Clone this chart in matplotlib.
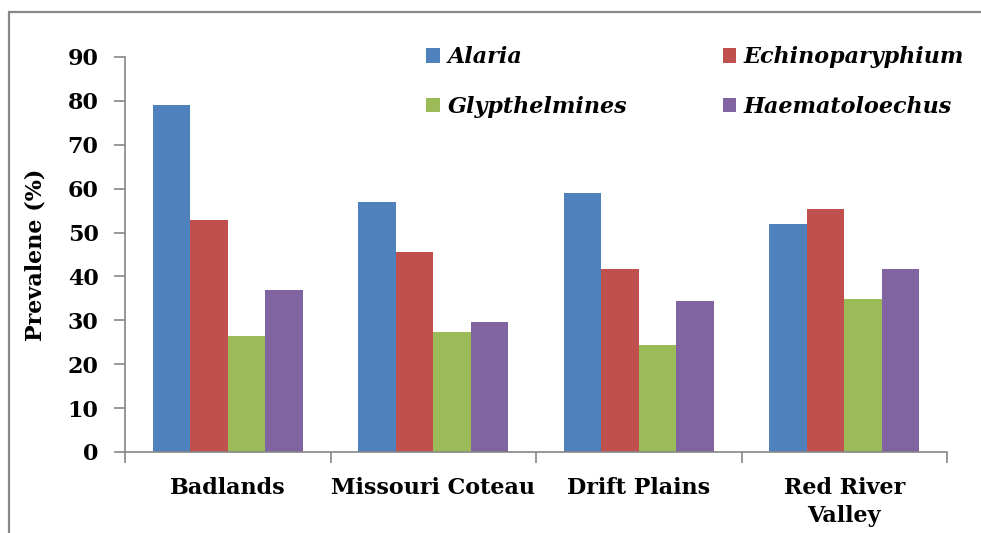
import numpy as np
import matplotlib
matplotlib.use("Agg")
import matplotlib.pyplot as plt
from matplotlib.patches import Rectangle

# DATA
regions = ["Badlands", "Missouri Coteau", "Drift Plains", "Red River\nValley"]
species = ["Alaria", "Echinoparyphium", "Glypthelmines", "Haematoloechus"]
alaria = [79.0, 57.0, 58.9, 51.9]
echinoparyphium = [52.9, 45.6, 41.8, 55.3]
glypthelmines = [26.5, 27.4, 24.3, 34.8]
haematoloechus = [36.9, 29.7, 34.4, 41.6]
colors = ["#4F81BD", "#C0504D", "#9BBB59", "#8064A2"]

series = [alaria, echinoparyphium, glypthelmines, haematoloechus]

fig = plt.figure(figsize=(9.81, 5.33), dpi=100)
ax = fig.add_axes([125 / 981, (533 - 452) / 533, 822 / 981, 395 / 533])

# outer chart frame (runs off the right/bottom edge like the original)
fig.patches.append(Rectangle((9 / 981, -0.1), 1.2, (533 - 12) / 533 + 0.1,
                             transform=fig.transFigure, fill=False,
                             edgecolor="#878787", linewidth=1.6, clip_on=False))

x = np.arange(len(regions))
w = 0.1825
bars = []
for j, (vals, name, c) in enumerate(zip(series, species, colors)):
    bars.append(ax.bar(x + (j - 1.5) * w, vals, width=w, color=c, label=name, linewidth=0))

ax.set_xlim(-0.5, 3.5)
ax.set_ylim(0, 90)
ax.set_yticks(np.arange(0, 91, 10))

# SPINES AND TICKS
for s in ["top", "right"]:
    ax.spines[s].set_visible(False)
for s in ["left", "bottom"]:
    ax.spines[s].set_color("#868686")
    ax.spines[s].set_linewidth(1.2)

tick_font = dict(family="DejaVu Serif", weight="bold", size=16)
ax.set_xticks(x)
ax.set_xticklabels(regions, fontdict=tick_font, linespacing=1.35)
ax.set_xticks(np.arange(-0.5, 4.0, 1.0), minor=True)
ax.tick_params(axis="x", which="major", length=0, pad=18)
ax.tick_params(axis="x", which="minor", length=8, width=1.2, color="#868686", direction="out")
ax.tick_params(axis="y", length=8, width=1.2, color="#868686", direction="out", pad=11)
for lbl in ax.get_yticklabels():
    lbl.set_fontproperties(matplotlib.font_manager.FontProperties(**tick_font))

ax.set_ylabel("Prevalene (%)", fontdict=tick_font)
ax.yaxis.set_label_coords(-0.096, 0.5)

# LEGEND (two rows: Alaria / Echinoparyphium, then Glypthelmines / Haematoloechus)
order = [0, 2, 1, 3]
ax.legend([bars[i] for i in order], [species[i] for i in order],
          ncol=2, loc="upper left", bbox_to_anchor=(0.353, 1.055), frameon=False,
          prop=dict(family="DejaVu Serif", weight="bold", style="italic", size=16),
          handlelength=0.6, handleheight=0.6, handletextpad=0.35,
          columnspacing=4.3, labelspacing=1.25, borderpad=0)

fig.savefig("out.png", dpi=100)
